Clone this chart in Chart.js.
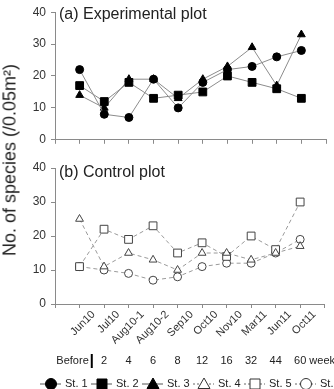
<!DOCTYPE html>
<html>
<head>
<meta charset="utf-8">
<script src="https://cdn.jsdelivr.net/npm/chart.js@4/dist/chart.umd.min.js"></script>
<style>
  body { margin: 0; background: #fff; }
  #wrap { position: relative; width: 334px; height: 389px; overflow: hidden; font-family: "Liberation Sans", Arial, sans-serif; }
  canvas { position: absolute; left: 0; }
  #topChart { top: 0; }
  #botChart { top: 150px; }
  #ytitle {
    position: absolute; left: 10px; top: 160px; white-space: nowrap;
    font-size: 18px; color: #222;
    transform: translate(-50%, -50%) rotate(-90deg);
  }
</style>
</head>
<body>
<div id="wrap">
  <canvas id="topChart" width="334" height="152"></canvas>
  <canvas id="botChart" width="334" height="239"></canvas>
  <div id="ytitle">No. of species (/0.05m²)</div>
</div>
<script>
// sampling dates and weeks after treatment
const months = ['Jun10', 'Jul10', 'Aug10-1', 'Aug10-2', 'Sep10', 'Oct10', 'Nov10', 'Mar11', 'Jun11', 'Oct11'];
const weeks = ['Before', '2', '4', '6', '8', '12', '16', '32', '44', '60 weeks'];

// (a) experimental plot
const st1 = [22, 8, 7, 19, 10, 18, 22, 23, 26, 28];
const st2 = [17, 12, 18, 13, 14, 15, 20, 18, 16, 13];
const st3 = [14, 10, 19, 19, 13, 19, 23, 29, 17, 33];
// (b) control plot
const st4 = [25, 11, 15, 13, 10, 15, 15, 13, 15, 17];
const st5 = [11, 22, 19, 23, 15, 18, 14, 20, 16, 30];
const st6 = [11, 10, 9, 7, 8, 11, 12, 12, 15, 19];

const stationNames = ['St. 1', 'St. 2', 'St. 3', 'St. 4', 'St. 5', 'St. 6'];
const yMin = 0, yMax = 40;

const FONT = '"Liberation Sans", Arial, sans-serif';
const axisColor = '#8a8a8a';
const textColor = '#333';

function toPoints(arr) {
  return arr.map((v, i) => ({ x: i, y: v }));
}

function solidSet(name, arr, style, r) {
  return {
    label: name, data: toPoints(arr),
    borderColor: '#8c8c8c', borderWidth: 1,
    pointStyle: style, pointRadius: r, pointHoverRadius: r,
    pointBackgroundColor: '#000', pointBorderColor: '#000', pointBorderWidth: 1
  };
}

function openSet(name, arr, style, r) {
  return {
    label: name, data: toPoints(arr),
    borderColor: '#9a9a9a', borderWidth: 1, borderDash: [4, 3],
    pointStyle: style, pointRadius: r, pointHoverRadius: r,
    pointBackgroundColor: '#fff', pointBorderColor: '#444', pointBorderWidth: 1
  };
}

function yScale() {
  return {
    min: yMin, max: yMax,
    afterFit: s => { s.width = 55; },
    border: { color: axisColor },
    grid: { drawOnChartArea: false, color: axisColor, tickLength: 4 },
    ticks: {
      stepSize: 5, padding: 5, color: textColor,
      font: { family: FONT, size: 12 },
      callback: v => (v % 10 === 0 ? v : '')
    }
  };
}

function xScale(showLabels, h) {
  return {
    type: 'linear', min: -1, max: 10,
    afterFit: s => { s.height = h; },
    border: { color: axisColor },
    grid: { drawOnChartArea: false, color: axisColor, tickLength: 4 },
    ticks: {
      display: showLabels, stepSize: 1, autoSkip: false,
      maxRotation: 45, minRotation: 45, labelOffset: 14, padding: 0,
      color: textColor, font: { family: FONT, size: 11 },
      callback: v => (months[v] !== undefined ? months[v] : '')
    }
  };
}

// panel title plugin
function titlePlugin(text, y) {
  return {
    id: 'panelTitle',
    afterDraw(chart) {
      const ctx = chart.ctx;
      ctx.save();
      ctx.font = '16px ' + FONT;
      ctx.fillStyle = '#222';
      ctx.textBaseline = 'alphabetic';
      ctx.fillText(text, chart.chartArea.left + 4, y);
      ctx.restore();
    }
  };
}

function drawMarker(ctx, style, x, y, filled) {
  ctx.beginPath();
  if (style === 'circle') {
    ctx.arc(x, y, 5.5, 0, Math.PI * 2);
  } else if (style === 'rect') {
    ctx.rect(x - 5, y - 5, 10, 10);
  } else {
    ctx.moveTo(x, y - 6);
    ctx.lineTo(x + 6, y + 4.5);
    ctx.lineTo(x - 6, y + 4.5);
    ctx.closePath();
  }
  ctx.fillStyle = filled ? '#000' : '#fff';
  ctx.fill();
  ctx.strokeStyle = filled ? '#000' : '#333';
  ctx.lineWidth = 1;
  ctx.stroke();
}

// weeks row and legend under the lower panel
const footerPlugin = {
  id: 'footer',
  afterDraw(chart) {
    const ctx = chart.ctx;
    const xs = chart.scales.x;
    ctx.save();
    ctx.font = '11px ' + FONT;
    ctx.fillStyle = '#222';
    ctx.textBaseline = 'middle';
    const rowY = 211;
    const barX = xs.getPixelForValue(0.5);
    weeks.forEach((w, i) => {
      if (i === 0) {
        ctx.textAlign = 'right';
        ctx.fillText(w, barX - 3, rowY);
      } else {
        const first = w.split(' ')[0];
        const fw = ctx.measureText(first).width;
        ctx.textAlign = 'left';
        ctx.fillText(w, xs.getPixelForValue(i) - fw / 2, rowY);
      }
    });
    ctx.strokeStyle = '#000';
    ctx.lineWidth = 2;
    ctx.beginPath();
    ctx.moveTo(barX, rowY - 7);
    ctx.lineTo(barX, rowY + 7);
    ctx.stroke();

    // legend
    const legY = 234;
    const styles = ['circle', 'rect', 'triangle', 'triangle', 'rect', 'circle'];
    stationNames.forEach((name, i) => {
      const mx = 51 + i * 51;
      const filled = i < 3;
      ctx.strokeStyle = filled ? '#555' : '#666';
      ctx.lineWidth = 1;
      ctx.setLineDash(filled ? [] : [2, 2]);
      ctx.beginPath();
      ctx.moveTo(mx - 11, legY);
      ctx.lineTo(mx + 10, legY);
      ctx.stroke();
      ctx.setLineDash([]);
      drawMarker(ctx, styles[i], mx, legY, filled);
      ctx.fillStyle = '#222';
      ctx.textAlign = 'left';
      ctx.fillText(name, mx + 14, legY);
    });
    ctx.restore();
  }
};

new Chart(document.getElementById('topChart').getContext('2d'), {
  type: 'line',
  data: {
    datasets: [
      solidSet(stationNames[0], st1, 'circle', 4),
      solidSet(stationNames[1], st2, 'rect', 5.5),
      solidSet(stationNames[2], st3, 'triangle', 4.5)
    ]
  },
  options: {
    responsive: false, animation: false,
    layout: { padding: { top: 10, right: 8, left: 0, bottom: 0 } },
    plugins: { legend: { display: false }, tooltip: { enabled: false } },
    scales: { x: xScale(false, 7), y: yScale() }
  },
  plugins: [titlePlugin('(a) Experimental plot', 19)]
});

new Chart(document.getElementById('botChart').getContext('2d'), {
  type: 'line',
  data: {
    datasets: [
      openSet(stationNames[3], st4, 'triangle', 4.5),
      openSet(stationNames[4], st5, 'rect', 5.5),
      openSet(stationNames[5], st6, 'circle', 4)
    ]
  },
  options: {
    responsive: false, animation: false,
    layout: { padding: { top: 18, right: 8, left: 0, bottom: 0 } },
    plugins: { legend: { display: false }, tooltip: { enabled: false } },
    scales: { x: xScale(true, 85), y: yScale() }
  },
  plugins: [titlePlugin('(b) Control plot', 27), footerPlugin]
});
</script>
</body>
</html>
